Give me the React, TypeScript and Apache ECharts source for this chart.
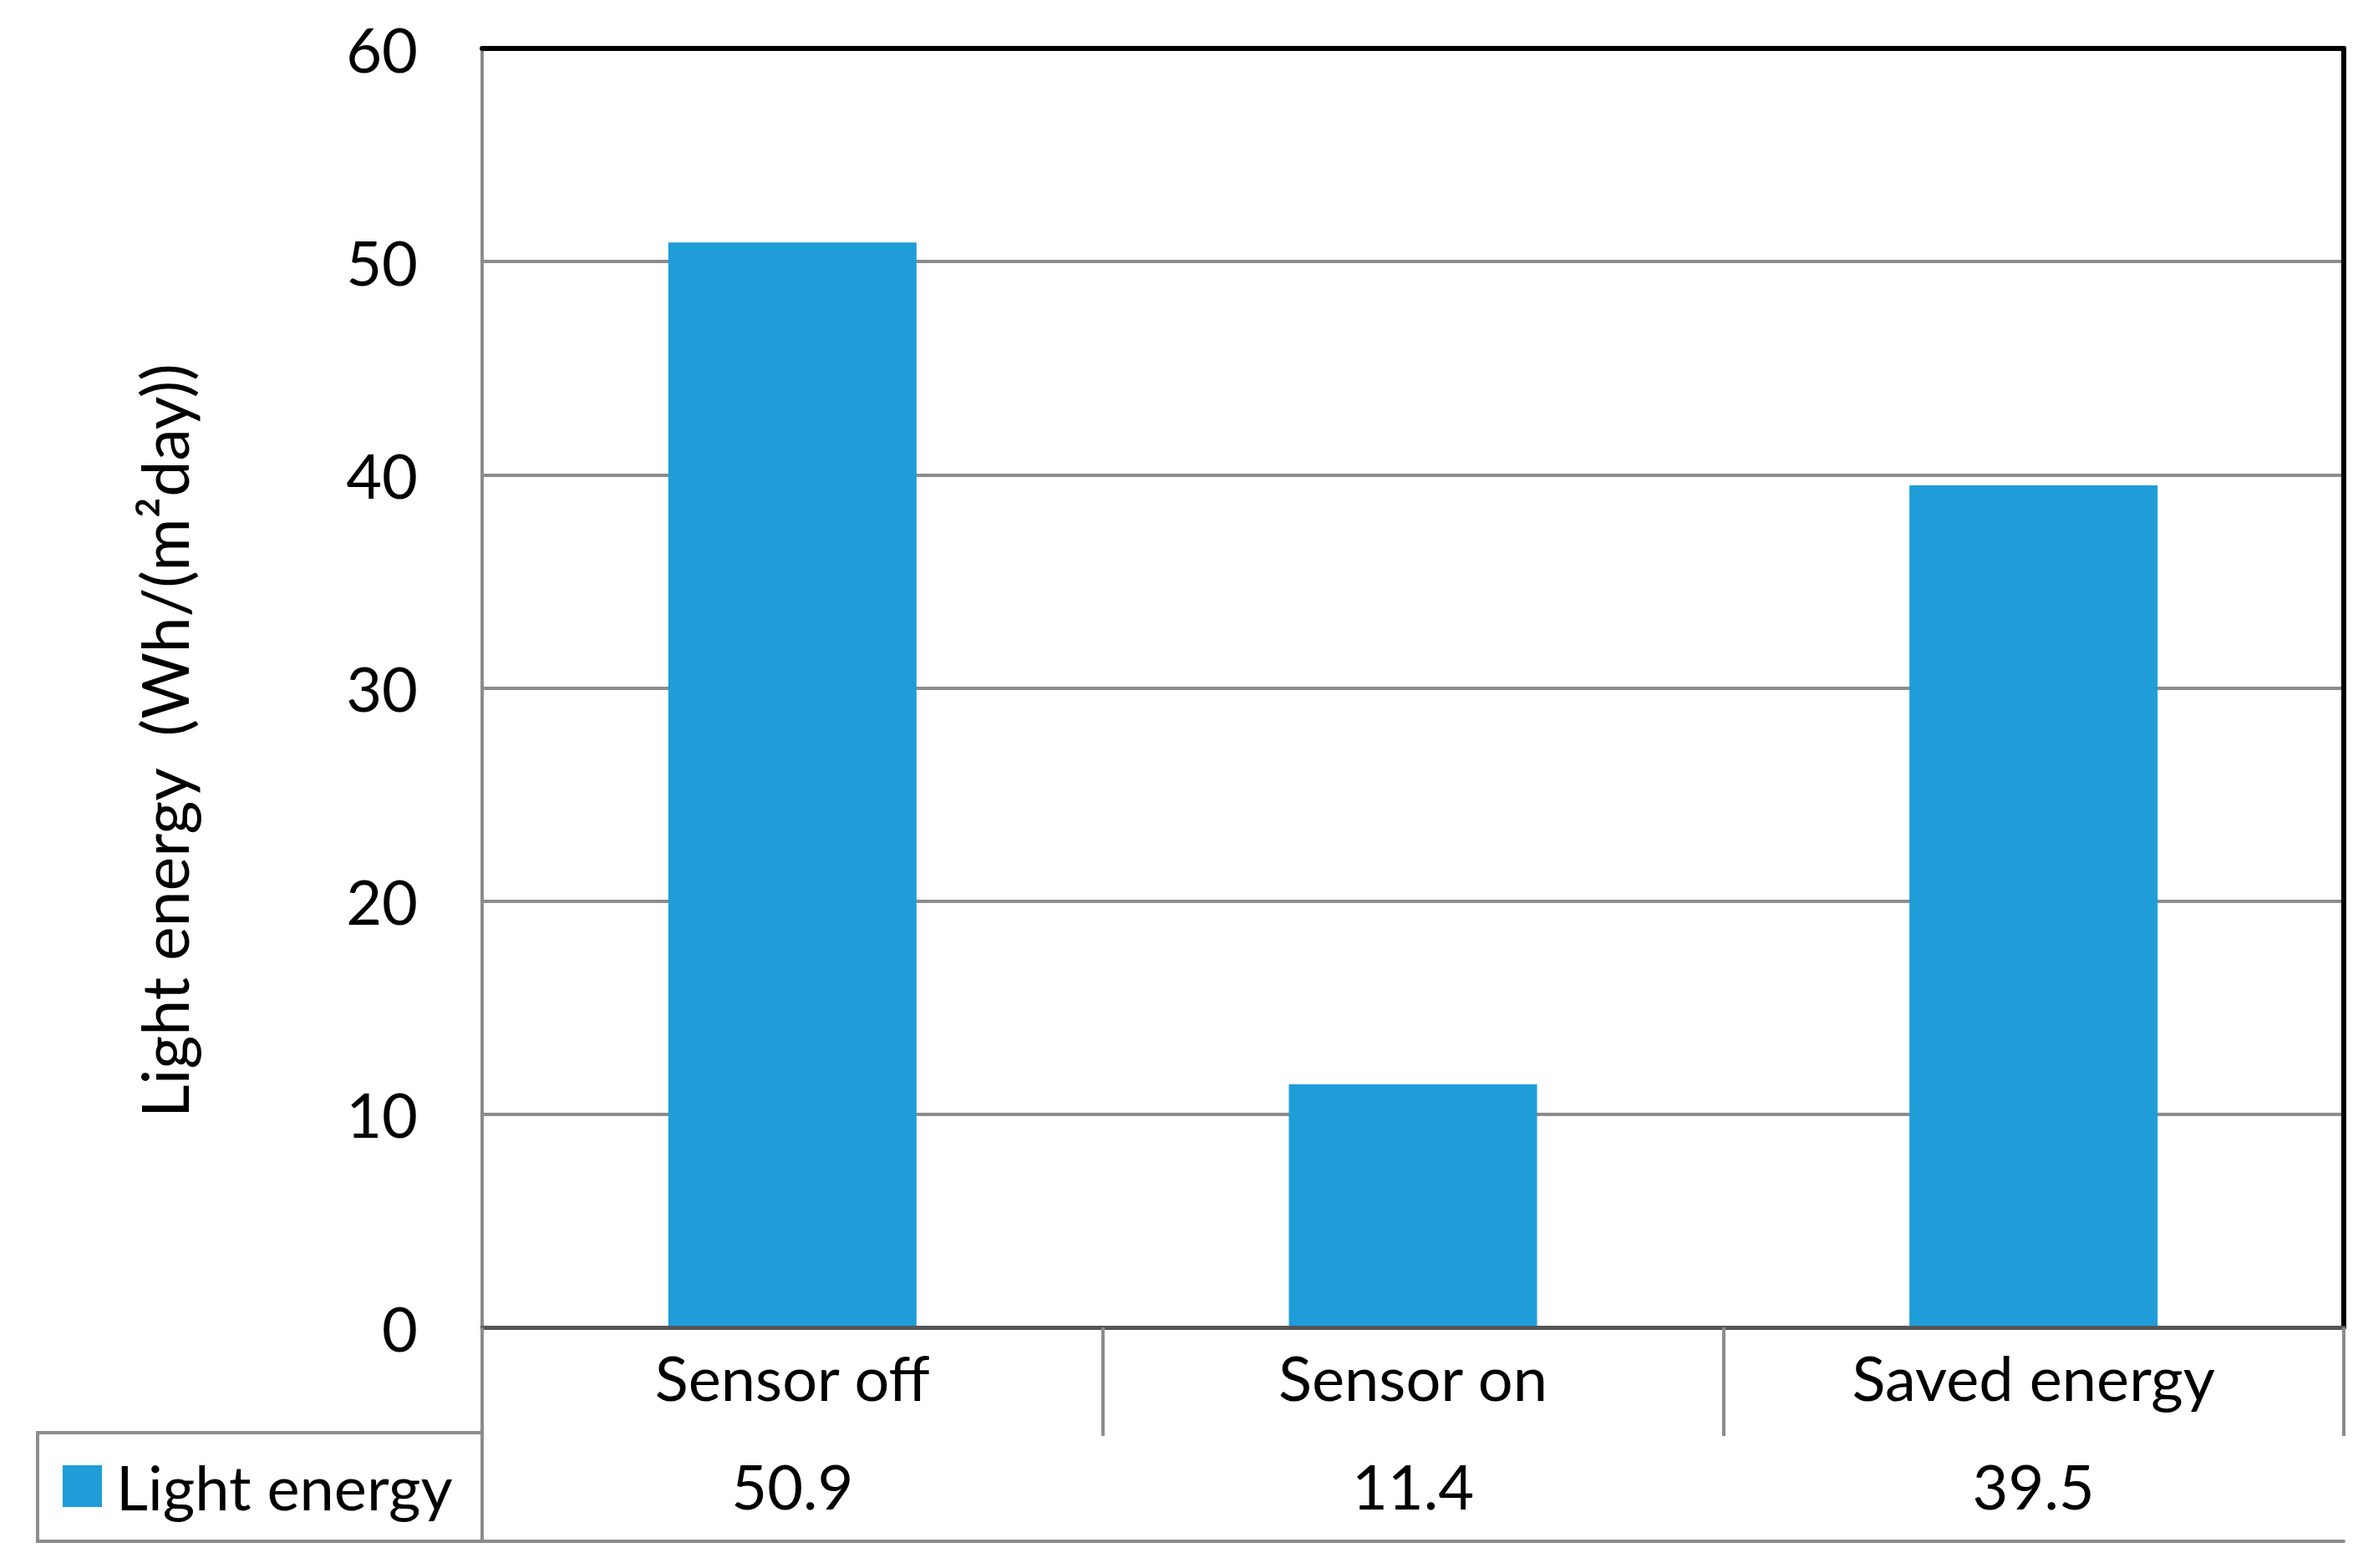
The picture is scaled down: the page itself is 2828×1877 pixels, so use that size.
import React, { useEffect, useRef } from "react";
import * as echarts from "echarts";

const categories = ["Sensor off", "Sensor on", "Saved energy"];
const lightEnergy = [50.9, 11.4, 39.5];
const seriesName = "Light energy";
const yTicks = { min: 0, max: 60, interval: 10 };
const yTitle = "Light energy  (Wh/(m²day))";

const W = 2828;
const H = 1877;
const GRID_LEFT = 577;
const GRID_RIGHT = 23;
const GRID_TOP = 58;
const GRID_BOTTOM = 288;
const ROW1 = 126;
const ROW2 = 130;
const TABLE_LEFT = 45;
const FONT = "Lato";
const FS = 74;
const GRAY = "#8c8c8c";
const BLUE = "#1e9dd8";

export default function App() {
  const ref = useRef<HTMLDivElement>(null);
  useEffect(() => {
    if (!ref.current) return;
    const chart = echarts.init(ref.current, undefined, { renderer: "svg" });
    const axisBottomY = H - GRID_BOTTOM;
    chart.setOption({
      animation: false,
      backgroundColor: "#ffffff",
      textStyle: { fontFamily: FONT },
      grid: { left: GRID_LEFT, right: GRID_RIGHT, top: GRID_TOP, bottom: GRID_BOTTOM, containLabel: false },
      legend: {
        show: true,
        left: 70,
        top: axisBottomY + ROW1 + 22,
        icon: "rect",
        itemWidth: 47,
        itemHeight: 50,
        itemGap: 10,
        textStyle: { fontFamily: FONT, fontSize: FS, color: "#000", lineHeight: 50, padding: [0, 0, 0, 12] },
        data: [seriesName],
      },
      xAxis: [
        {
          type: "category",
          data: categories,
          position: "bottom",
          axisLine: { show: true, lineStyle: { color: "#555", width: 5 } },
          axisTick: { show: true, length: ROW1, lineStyle: { color: GRAY, width: 4 } },
          axisLabel: { fontFamily: FONT, fontSize: FS, color: "#000", margin: ROW1 / 2 - 4, verticalAlign: "middle" },
          splitLine: { show: false },
          z: 3,
        },
        {
          type: "category",
          data: categories,
          position: "bottom",
          offset: ROW1,
          axisLine: { show: true, lineStyle: { color: GRAY, width: 4 } },
          axisTick: { show: true, length: ROW2, lineStyle: { color: GRAY, width: 4 } },
          axisLabel: {
            fontFamily: FONT,
            fontSize: FS,
            color: "#000",
            margin: ROW2 / 2 - 2,
            verticalAlign: "middle",
            formatter: (_v: string, i: number) => lightEnergy[i].toFixed(1),
          },
        },
        {
          type: "category",
          data: categories,
          position: "bottom",
          offset: ROW1 + ROW2,
          axisLine: { show: true, lineStyle: { color: GRAY, width: 4 } },
          axisTick: { show: false },
          axisLabel: { show: false },
        },
        {
          type: "category",
          data: categories,
          position: "top",
          axisLine: { show: true, lineStyle: { color: "#000", width: 6 } },
          axisTick: { show: false },
          axisLabel: { show: false },
        },
      ],
      yAxis: [
        {
          type: "value",
          min: yTicks.min,
          max: yTicks.max,
          interval: yTicks.interval,
          position: "left",
          name: yTitle,
          nameLocation: "middle",
          nameGap: 343,
          nameRotate: 90,
          nameTextStyle: { fontFamily: FONT, fontSize: 77, color: "#000", padding: [0, 126, 0, 0] },
          axisLine: { show: true, lineStyle: { color: GRAY, width: 4 } },
          axisTick: { show: false },
          axisLabel: { fontFamily: FONT, fontSize: FS, color: "#000", margin: 77 },
          splitLine: { show: true, lineStyle: { color: GRAY, width: 4 } },
        },
        {
          type: "value",
          min: yTicks.min,
          max: yTicks.max,
          interval: yTicks.interval,
          position: "right",
          axisLine: { show: true, lineStyle: { color: "#000", width: 6 } },
          axisTick: { show: false },
          axisLabel: { show: false },
          splitLine: { show: false },
        },
      ],
      series: [
        {
          name: seriesName,
          type: "bar",
          data: lightEnergy,
          xAxisIndex: 0,
          yAxisIndex: 0,
          barWidth: "40%",
          itemStyle: { color: BLUE },
        },
      ],
      graphic: [
        {
          type: "rect",
          shape: {
            x: TABLE_LEFT,
            y: axisBottomY + ROW1,
            width: GRID_LEFT - TABLE_LEFT,
            height: ROW2,
          },
          style: { fill: "none", stroke: GRAY, lineWidth: 4 },
          z: 5,
        },
      ],
    });
    return () => chart.dispose();
  }, []);
  return (
    <div
      ref={ref}
      style={{ position: "fixed", left: 0, top: 0, width: W, height: H, background: "#fff" }}
    />
  );
}
